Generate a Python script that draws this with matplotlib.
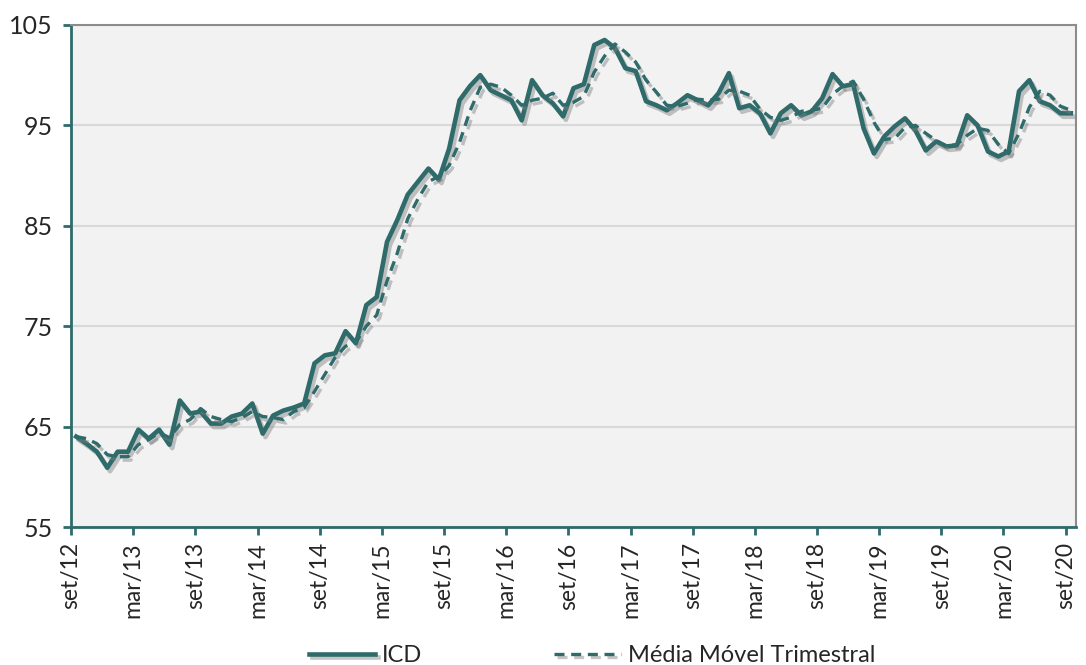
import numpy as np
import matplotlib
matplotlib.use('Agg')
import matplotlib.pyplot as plt
import matplotlib.patheffects as pe

# ICD mensal, set/12 a set/20
icd = [64.0, 63.3, 62.5, 60.9, 62.5, 62.5, 64.7, 63.8, 64.7, 63.2,
       67.6, 66.3, 66.5, 65.3, 65.3, 66.0, 66.3, 67.3, 64.3, 66.1,
       66.6, 66.9, 67.3, 71.3, 72.1, 72.3, 74.5, 73.3, 77.1, 77.9,
       83.4, 85.6, 88.1, 89.4, 90.7, 89.6, 92.7, 97.5, 98.9, 100.0,
       98.5, 98.0, 97.5, 95.5, 99.5, 98.0, 97.2, 95.9, 98.7, 99.1,
       103.0, 103.5, 102.7, 100.7, 100.4, 97.4, 97.0, 96.5, 97.2, 98.0,
       97.5, 97.0, 98.2, 100.2, 96.7, 97.0, 96.2, 94.2, 96.2, 97.0,
       96.0, 96.4, 97.7, 100.1, 98.9, 99.1, 94.7, 92.2, 93.9, 94.9,
       95.7, 94.5, 92.5, 93.4, 92.9, 93.0, 96.0, 95.0, 92.4, 91.9,
       92.4, 98.4, 99.5, 97.4, 97.0, 96.2, 96.2]

# média móvel trimestral
mm3 = [64.0, 63.8, 63.3, 62.2, 62.0, 62.0, 63.2, 63.7, 64.4, 63.9,
       65.2, 65.7, 66.8, 66.0, 65.7, 65.5, 65.9, 66.5, 66.0, 65.9,
       65.7, 66.5, 66.9, 68.5, 70.2, 71.9, 73.0, 73.4, 75.0, 76.1,
       79.5, 82.3, 85.7, 87.7, 89.4, 89.9, 91.0, 93.3, 96.4, 98.8,
       99.1, 98.8, 98.0, 97.0, 97.5, 97.7, 98.2, 97.0, 97.3, 97.9,
       100.3, 101.9, 103.1, 102.3, 101.3, 99.5, 98.3, 97.0, 96.9, 97.2,
       97.6, 97.5, 97.6, 98.5, 98.4, 98.0, 96.6, 95.8, 95.5, 95.8,
       96.4, 96.5, 96.7, 98.1, 98.9, 99.4, 97.6, 95.3, 93.6, 93.7,
       94.8, 95.0, 94.2, 93.5, 92.9, 93.1, 94.0, 94.7, 94.5, 93.1,
       92.2, 94.2, 96.8, 98.4, 98.0, 96.9, 96.5]

tick_labels = ["set/12", "mar/13", "set/13", "mar/14", "set/14", "mar/15",
               "set/15", "mar/16", "set/16", "mar/17", "set/17", "mar/18",
               "set/18", "mar/19", "set/19", "mar/20", "set/20"]

cor = "#2e6b6a"
plt.rcParams['font.family'] = ['Lato', 'DejaVu Sans']

fig = plt.figure(figsize=(10.86, 6.65), dpi=100)
ax = fig.add_axes([0.0654, 0.2075, 0.9254, 0.755])
ax.set_facecolor("#f2f2f2")

x = np.arange(len(icd)) + 0.5
sombra = [pe.SimpleLineShadow(offset=(2, -2.5), shadow_color="#7f7f7f", alpha=0.45), pe.Normal()]
ax.plot(x, icd, color=cor, lw=3.3, label="ICD", path_effects=sombra, zorder=3)
ax.plot(x, mm3, color=cor, lw=2.4, ls=(0, (3, 2)), label="Média Móvel Trimestral",
        path_effects=sombra, zorder=4)

ax.set_xlim(0, len(icd))
ax.set_ylim(55, 105)
ax.set_yticks([55, 65, 75, 85, 95, 105])
ax.set_xticks(np.arange(0, len(icd), 6))
ax.set_xticklabels(tick_labels, rotation=90)
ax.grid(axis='y', color="#d9d9d9", lw=1.5)
ax.set_axisbelow(True)

for s in ['left', 'bottom']:
    ax.spines[s].set_color(cor)
    ax.spines[s].set_linewidth(2)
for s in ['top', 'right']:
    ax.spines[s].set_color("#8c8c8c")
    ax.spines[s].set_linewidth(1.5)
ax.tick_params(axis='both', direction='out', length=6, width=2, color=cor,
               labelcolor="#262626")
ax.tick_params(axis='y', labelsize=18, pad=7)
ax.tick_params(axis='x', labelsize=16.5, pad=5)

fig.legend(*ax.get_legend_handles_labels(), loc='center', bbox_to_anchor=(0.545, 0.014),
           ncol=2, frameon=False, fontsize=17, handlelength=2.8, handletextpad=0.3,
           columnspacing=5.6, labelcolor="#262626", borderpad=0.1)

fig.savefig("out.png", dpi=100)
